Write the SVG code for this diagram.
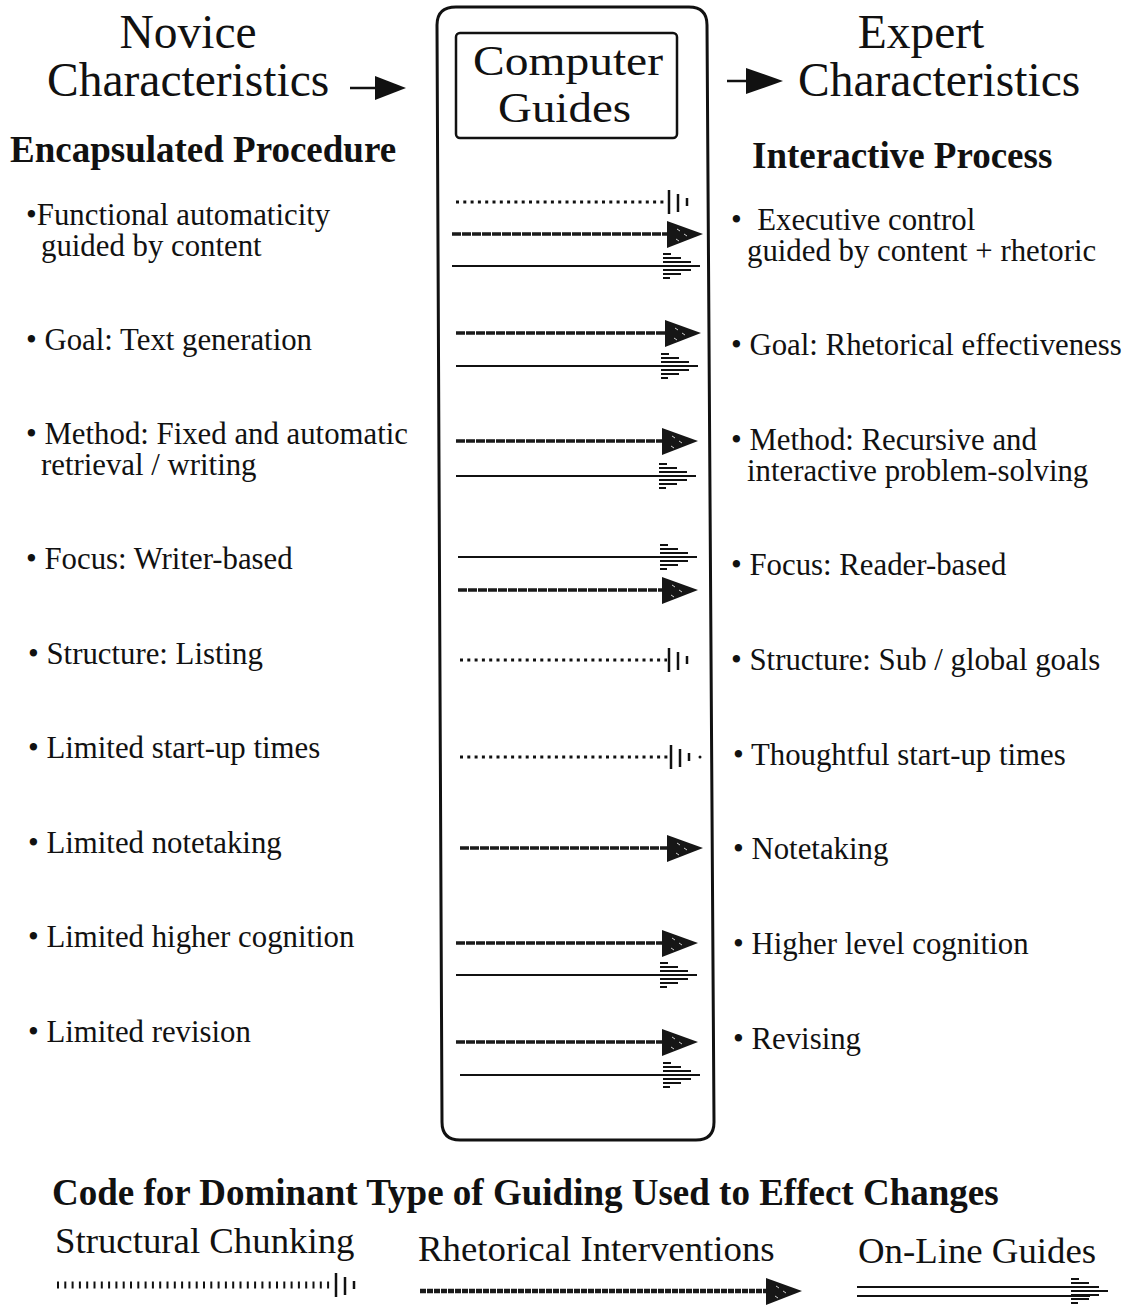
<svg xmlns="http://www.w3.org/2000/svg" xmlns:xlink="http://www.w3.org/1999/xlink" width="1133" height="1311" viewBox="0 0 1133 1311">
<style>
text{font-family:"Liberation Serif","Times New Roman",serif;fill:#111}
.h1{font-size:47.5px}
.cg{font-size:42px}
.h2{font-size:37px;font-weight:bold}
.it{font-size:30.8px}
.lg{font-size:36.8px}
.box{fill:none;stroke:#111;stroke-width:3}
.chunk{fill:none;stroke:#111;stroke-width:3;stroke-dasharray:3 4.3;marker-end:url(#mChunk)}
.rhet{fill:none;stroke:#1a1a1a;stroke-width:3.6;stroke-dasharray:9 1;marker-end:url(#mRhet)}
.online{fill:none;stroke:#111;stroke-width:2;marker-end:url(#mOnline)}
</style>
<defs>
<g id="onlineHead" fill="none" stroke="#111" stroke-width="2.2">
<path d="M0 -12H8 M0 -8H18 M0 -4H28 M0 0H37 M0 4H28 M0 8H18 M0 12H7"/>
</g>
<g id="rhetHead">
<path d="M0 -13 L36 0 L0 14 Z" fill="#161616"/>
<path d="M10 -5l3 2 M17 0l3 2 M9 5l3 2" stroke="#fff" stroke-width="0.8"/>
</g>
<g id="chunkBars" fill="none" stroke="#111" stroke-width="2.5">
<path d="M2 -12V12 M11 -8V10 M20 -4V4"/>
</g>
<marker id="mChunk" markerUnits="userSpaceOnUse" markerWidth="40" markerHeight="40" refX="0" refY="20" orient="auto" overflow="visible" viewBox="0 0 40 40">
<use xlink:href="#chunkBars" x="0" y="20"/>
</marker>
<marker id="mRhet" markerUnits="userSpaceOnUse" markerWidth="40" markerHeight="40" refX="0" refY="20" orient="auto" overflow="visible" viewBox="0 0 40 40">
<use xlink:href="#rhetHead" x="0" y="20"/>
</marker>
<marker id="mOnline" markerUnits="userSpaceOnUse" markerWidth="40" markerHeight="40" refX="0" refY="20" orient="auto" overflow="visible" viewBox="0 0 40 40">
<use xlink:href="#onlineHead" x="0" y="20"/>
</marker>
</defs>

<g id="novice-header">
<text class="h1" x="188" y="48" text-anchor="middle">Novice</text>
<text class="h1" x="47" y="96">Characteristics</text>
<path d="M350 88H378" stroke="#111" stroke-width="2.5"/>
<path d="M375 76L406 88L375 100Z" fill="#111"/>
<text class="h2" x="10" y="162">Encapsulated Procedure</text>
</g>

<g id="expert-header">
<text class="h1" x="921" y="48" text-anchor="middle">Expert</text>
<text class="h1" x="798" y="96">Characteristics</text>
<path d="M727 81H750" stroke="#111" stroke-width="2.5"/>
<path d="M746 68L783 81L746 94Z" fill="#111"/>
<text class="h2" x="752" y="168">Interactive Process</text>
</g>

<g id="computer-guides">
<path class="box" d="M456 7H689Q707 7 707 25L714 1122Q714 1140 696 1140H460Q442 1140 442 1122L437 25Q437 7 456 7Z"/>
<rect x="456" y="33" width="221" height="105" rx="4" fill="none" stroke="#111" stroke-width="2.5"/>
<text class="cg" x="473" y="75" textLength="190" lengthAdjust="spacingAndGlyphs">Computer</text>
<text class="cg" x="498" y="122" textLength="133" lengthAdjust="spacingAndGlyphs">Guides</text>
</g>

<g id="novice-items">
<text class="it" x="26" y="225">•Functional automaticity</text>
<text class="it" x="41" y="256">guided by content</text>
<text class="it" x="26" y="350">• Goal: Text generation</text>
<text class="it" x="26" y="444">• Method: Fixed and automatic</text>
<text class="it" x="41" y="475">retrieval / writing</text>
<text class="it" x="26" y="569">• Focus: Writer-based</text>
<text class="it" x="28" y="664">• Structure: Listing</text>
<text class="it" x="28" y="758">• Limited start-up times</text>
<text class="it" x="28" y="853">• Limited notetaking</text>
<text class="it" x="28" y="947">• Limited higher cognition</text>
<text class="it" x="28" y="1042">• Limited revision</text>
</g>

<g id="expert-items">
<text class="it" x="731" y="230" xml:space="preserve">•  Executive control</text>
<text class="it" x="747" y="261">guided by content + rhetoric</text>
<text class="it" x="731" y="355">• Goal: Rhetorical effectiveness</text>
<text class="it" x="731" y="450">• Method: Recursive and</text>
<text class="it" x="747" y="481">interactive problem-solving</text>
<text class="it" x="731" y="575">• Focus: Reader-based</text>
<text class="it" x="731" y="670">• Structure: Sub / global goals</text>
<text class="it" x="733" y="765">• Thoughtful start-up times</text>
<text class="it" x="733" y="859">• Notetaking</text>
<text class="it" x="733" y="954">• Higher level cognition</text>
<text class="it" x="733" y="1049">• Revising</text>
</g>

<g id="connectors">
<path class="chunk" d="M456 202H667"/>
<path class="rhet" d="M452 234H667"/>
<path class="online" d="M452 266H663"/>

<path class="rhet" d="M456 333H665"/>
<path class="online" d="M456 366H661"/>

<path class="rhet" d="M456 441H662"/>
<path class="online" d="M456 476H659"/>

<path class="online" d="M458 557H660"/>
<path class="rhet" d="M458 590H662"/>

<path class="chunk" d="M460 660H667"/>
<path class="chunk" d="M460 757H669"/>
<circle cx="700" cy="757" r="1.5" fill="#111"/>

<path class="rhet" d="M460 848H667"/>

<path class="rhet" d="M456 943H662"/>
<path class="online" d="M456 975H660"/>

<path class="rhet" d="M456 1042H662"/>
<path class="online" d="M460 1075H663"/>
</g>

<g id="legend">
<text x="52" y="1205" style="font-size:37px;font-weight:bold">Code for Dominant Type of Guiding Used to Effect Changes</text>
<text class="lg" x="55" y="1253">Structural Chunking</text>
<text class="lg" x="418" y="1261">Rhetorical Interventions</text>
<text class="lg" x="858" y="1263">On-Line Guides</text>
<path d="M57 1285H334" fill="none" stroke="#111" stroke-width="7" stroke-dasharray="2 5.3" marker-end="url(#mChunk)"/>
<path d="M420 1291H766" fill="none" stroke="#1a1a1a" stroke-width="4.5" stroke-dasharray="6 1" marker-end="url(#mRhet)"/>
<path d="M857 1287H1090 M857 1296H1090" fill="none" stroke="#111" stroke-width="2.2"/>
<use xlink:href="#onlineHead" x="1071" y="1291"/>
</g>
</svg>
